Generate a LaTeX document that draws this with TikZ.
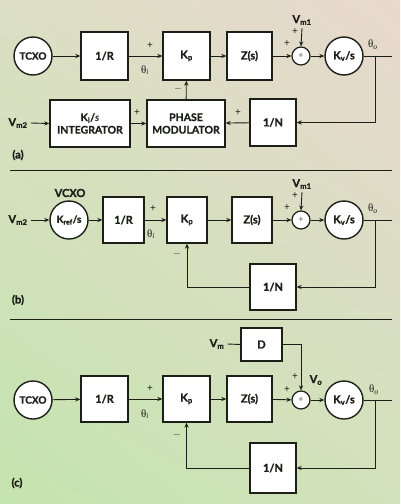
\documentclass[tikz,border=0pt]{standalone}
\usepackage{fontspec}
\setmainfont{Lato}[BoldFeatures={FakeBold=1.2}]
\newfontfamily\thf{Liberation Serif}
\usetikzlibrary{arrows.meta,shadings}
\definecolor{ink}{HTML}{1C1F18}
\definecolor{bgUL}{RGB}{220,223,196}
\definecolor{bgUR}{RGB}{232,216,206}
\definecolor{bgLL}{RGB}{196,228,174}
\definecolor{bgLR}{RGB}{210,226,188}
\newcommand{\thsub}[1]{{\thf θ}\textsubscript{\thf\itshape #1}}
\tikzset{
  blk/.style={draw=ink, fill=white, line width=1.4pt, inner sep=1pt, font=\bfseries\fontsize{11}{13}\selectfont, text=ink},
  circ/.style={blk, circle, minimum size=38pt, inner sep=0pt},
  sumc/.style={draw=ink, fill=white, line width=1.2pt, circle, minimum size=18pt, inner sep=0pt, font=\fontsize{9}{9}\selectfont, text=ink!70},
  lab/.style={text=ink, font=\bfseries\fontsize{11}{13}\selectfont, inner sep=0pt},
  sgn/.style={text=ink, font=\fontsize{10}{10}\selectfont, inner sep=0pt},
  th/.style={text=ink, font=\fontsize{11}{11}\selectfont, inner sep=0pt},
  wire/.style={draw=ink, line width=0.9pt},
  arr/.style={wire, -{Stealth[length=5pt,width=4.2pt]}},
  sep/.style={draw=ink, line width=1pt}
}
\begin{document}
\begin{tikzpicture}[x=1pt,y=-1pt]
\useasboundingbox (0,0) rectangle (400,504);
\shade[upper left=bgUL, upper right=bgUR, lower left=bgLL, lower right=bgLR]
  (0,0) rectangle (400,504);

% ---------------- (a)
\node[circ, font=\bfseries\fontsize{10}{12}\selectfont] (tcxoA) at (33,56) {TCXO};
\node[blk, minimum width=47pt, minimum height=48pt] (rA) at (104.5,56) {1/R};
\node[blk, minimum width=47pt, minimum height=48pt] (kpA) at (186.5,56) {K\textsubscript{p}};
\node[blk, minimum width=45pt, minimum height=48pt] (zA) at (249.5,56) {Z(s)};
\node[sumc] (sumA) at (301,56) {+};
\node[circ] (kvA) at (344,56) {K\textsubscript{v}/s};
\node[blk, minimum width=80pt, minimum height=47pt, align=center, font=\bfseries\fontsize{10.5}{12.5}\selectfont] (intA) at (90,123.5) {K\textsubscript{i}/\textit{s}\\INTEGRATOR};
\node[blk, minimum width=78pt, minimum height=47pt, align=center, font=\bfseries\fontsize{10.5}{12.5}\selectfont] (pmA) at (186,123.5) {PHASE\\MODULATOR};
\node[blk, minimum width=46pt, minimum height=47pt] (nA) at (273,122.5) {1/N};
\node[lab] (vm2A) at (18,123) {V\textsubscript{m2}};
\node[lab] (vm1A) at (302,20) {V\textsubscript{m1}};
\coordinate (outA) at (392,56);
\coordinate (brA) at (375,56);

\draw[arr] (tcxoA) -- (rA);
\draw[arr] (rA) -- (kpA);
\draw[arr] (kpA) -- (zA);
\draw[arr] (zA) -- (sumA);
\draw[arr] (sumA) -- (kvA);
\draw[wire] (kvA) -- (outA);
\draw[arr] (brA) |- (nA.east);
\draw[arr] (nA) -- (pmA);
\draw[arr] (intA) -- (pmA);
\draw[arr] (pmA) -- (kpA);
\draw[arr] (vm2A.east) ++(3,0) -- (intA.west);
\draw[arr] (vm1A.south) ++(0,3) -- (sumA.north);

\node[sgn] (pA1) at (150,46) {+};
\node[th] (thiA) at (145,70) {\thsub{i}};
\node[sgn] (mA1) at (178,89) {$-$};
\node[sgn] (pA2) at (137,113) {+};
\node[sgn] (pA3) at (238,113) {+};
\node[sgn] (pA4) at (287,44) {+};
\node[sgn] (pA5) at (295,32) {+};
\node[th] (thoA) at (373,45) {\thsub{o}};
\node[lab] (labA) at (18,155) {(a)};

\draw[sep] (10,170) -- (392,170);

% ---------------- (b)
\node[circ, font=\bfseries\fontsize{10}{12}\selectfont] (krefB) at (69,220) {K\textsubscript{ref}/s};
\node[lab] (vcxoB) at (70,193) {VCXO};
\node[blk, minimum width=41pt, minimum height=46pt] (rB) at (123.5,220) {1/R};
\node[blk, minimum width=40pt, minimum height=46pt] (kpB) at (187,220) {K\textsubscript{p}};
\node[blk, minimum width=40pt, minimum height=46pt] (zB) at (252,220) {Z(s)};
\node[sumc] (sumB) at (301,220) {+};
\node[circ] (kvB) at (344,220) {K\textsubscript{v}/s};
\node[blk, minimum width=46pt, minimum height=46pt] (nB) at (273,287) {1/N};
\node[lab] (vm2B) at (18,220) {V\textsubscript{m2}};
\node[lab] (vm1B) at (302,184) {V\textsubscript{m1}};
\coordinate (outB) at (392,220);
\coordinate (brB) at (375,220);

\draw[arr] (vm2B.east) ++(3,0) -- (krefB.west);
\draw[arr] (krefB) -- (rB);
\draw[arr] (rB) -- (kpB);
\draw[arr] (kpB) -- (zB);
\draw[arr] (zB) -- (sumB);
\draw[arr] (sumB) -- (kvB);
\draw[wire] (kvB) -- (outB);
\draw[arr] (brB) |- (nB.east);
\draw[arr] (nB.west) -| (kpB.south);
\draw[arr] (vm1B.south) ++(0,3) -- (sumB.north);

\node[sgn] (pB1) at (153,209) {+};
\node[th] (thiB) at (151,234) {\thsub{i}};
\node[sgn] (mB1) at (177,254) {$-$};
\node[sgn] (pB4) at (287,208) {+};
\node[sgn] (pB5) at (295,196) {+};
\node[th] (thoB) at (373,209) {\thsub{o}};
\node[lab] (labB) at (18,300) {(b)};

\draw[sep] (10,319) -- (392,319);

% ---------------- (c)
\node[circ, font=\bfseries\fontsize{10}{12}\selectfont] (tcxoC) at (33,400) {TCXO};
\node[blk, minimum width=47pt, minimum height=46pt] (rC) at (104.5,399) {1/R};
\node[blk, minimum width=47pt, minimum height=46pt] (kpC) at (186.5,399) {K\textsubscript{p}};
\node[blk, minimum width=45pt, minimum height=46pt] (zC) at (249.5,399) {Z(s)};
\node[sumc] (sumC) at (301,400) {+};
\node[circ] (kvC) at (344,400) {K\textsubscript{v}/s};
\node[blk, minimum width=41pt, minimum height=33pt] (dC) at (261.5,344.5) {D};
\node[blk, minimum width=46pt, minimum height=50pt] (nC) at (273,468) {1/N};
\node[lab] (vmC) at (217,344) {V\textsubscript{m}};
\coordinate (outC) at (392,400);
\coordinate (brC) at (375,400);

\draw[arr] (tcxoC) -- (rC);
\draw[arr] (rC) -- (kpC);
\draw[arr] (kpC) -- (zC);
\draw[arr] (zC) -- (sumC);
\draw[arr] (sumC) -- (kvC);
\draw[wire] (kvC) -- (outC);
\draw[arr] (brC) |- (nC.east);
\draw[arr] (nC.west) -| (kpC.south);
\draw[wire] (vmC.east) ++(3,0) -- (dC.west);
\draw[arr] (dC.east) -| (sumC.north);

\node[sgn] (pC1) at (150,389) {+};
\node[th] (thiC) at (145,414) {\thsub{i}};
\node[sgn] (mC1) at (177,435) {$-$};
\node[sgn] (pC4) at (287,390) {+};
\node[sgn] (pC5) at (295,377) {+};
\node[lab] (voC) at (316,380) {V\textsubscript{o}};
\node[th] (thoC) at (374,390) {\thsub{o}};
\node[lab] (labC) at (17,483) {(c)};
\end{tikzpicture}
\end{document}
